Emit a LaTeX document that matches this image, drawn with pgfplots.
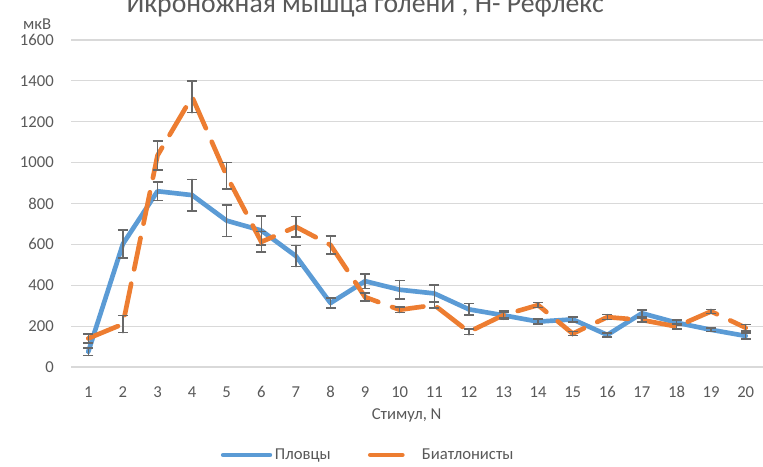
\documentclass[border=0pt]{standalone}
\usepackage{fontspec}
\setmainfont{Carlito}
\usepackage{pgfplots}
\pgfplotsset{compat=1.18}
\definecolor{cblue}{HTML}{5B9BD5}
\definecolor{corange}{HTML}{ED7D31}
\definecolor{cgrid}{HTML}{D9D9D9}
\definecolor{ctext}{HTML}{595959}
\definecolor{cerr}{HTML}{686868}
\pgfplotsset{myerr/.style={error bars/.cd, y dir=both, y explicit,
  error bar style={cerr, line width=1.1pt, solid},
  error mark options={rotate=90, mark size=3.75pt, cerr, line width=1.1pt, solid}}}
\begin{document}
\begin{tikzpicture}
\useasboundingbox (0,0) rectangle (572.25pt,350.25pt);
\begin{axis}[
  at={(53.25pt,75pt)}, anchor=south west,
  scale only axis, width=519pt, height=245.25pt,
  xmin=0.5, xmax=20.5, ymin=0, ymax=1600,
  xtick={1,...,20}, ytick={0,200,...,1600},
  axis line style={draw=none},
  major tick length=0pt,
  ymajorgrids, grid style={cgrid, line width=0.9pt},
  /pgf/number format/assume math mode=true,
  /pgf/number format/1000 sep={},
  tick label style={font=\fontsize{12.5}{14}\selectfont, text=ctext, inner sep=0pt},
  yticklabel style={anchor=east, xshift=-12.75pt},
  xticklabel style={anchor=north, yshift=-14.5pt},
  xlabel={Стимул, N},
  xlabel style={at={(axis description cs:0.485,-0.1468)}, anchor=center, font=\fontsize{12.5}{14}\selectfont, text=ctext},
  ylabel={мкВ},
  ylabel style={rotate=-90, at={(axis description cs:-0.049,1.049)}, anchor=center, font=\fontsize{12.5}{14}\selectfont, text=ctext},
  title={Икроножная мышца голени , Н- Рефлекс},
  title style={at={(axis description cs:0.425,1.0600)}, anchor=base, font=\fontsize{20.8}{24}\selectfont, text=ctext},
  legend style={draw=none, at={(0.430,-0.269)}, anchor=center, font=\fontsize{12.5}{14}\selectfont, text=ctext,
    legend columns=2, /tikz/every even column/.append style={column sep=26pt}},
  legend image code/.code={\draw[#1] (0pt,0pt) -- (35pt,0pt);},
]
\addplot[cblue, line width=3.5pt, line join=round, line cap=round, mark=none, myerr] coordinates {
(1,75) +- (0,18)
(2,602) +- (0,68)
(3,860) +- (0,45)
(4,841) +- (0,77)
(5,716) +- (0,77)
(6,668) +- (0,70)
(7,543) +- (0,52)
(8,313) +- (0,25)
(9,420) +- (0,35)
(10,378) +- (0,45)
(11,360) +- (0,42)
(12,282) +- (0,28)
(13,253) +- (0,20)
(14,222) +- (0,12)
(15,233) +- (0,12)
(16,157) +- (0,10)
(17,263) +- (0,15)
(18,217) +- (0,12)
(19,182) +- (0,8)
(20,152) +- (0,15)
};
\addlegendentry{Пловцы}
\addplot[corange, line width=3.5pt, line cap=round, dash pattern=on 24pt off 11pt, mark=none, myerr] coordinates {
(1,140) +- (0,22)
(2,210) +- (0,42)
(3,1035) +- (0,70)
(4,1322) +- (0,78)
(5,935) +- (0,65)
(6,612) +- (0,50)
(7,686) +- (0,50)
(8,597) +- (0,45)
(9,342) +- (0,20)
(10,280) +- (0,14)
(11,303) +- (0,15)
(12,172) +- (0,14)
(13,254) +- (0,14)
(14,303) +- (0,12)
(15,163) +- (0,10)
(16,244) +- (0,12)
(17,230) +- (0,10)
(18,198) +- (0,12)
(19,272) +- (0,10)
(20,192) +- (0,15)
};
\addlegendentry{Биатлонисты}
\end{axis}
\end{tikzpicture}
\end{document}
